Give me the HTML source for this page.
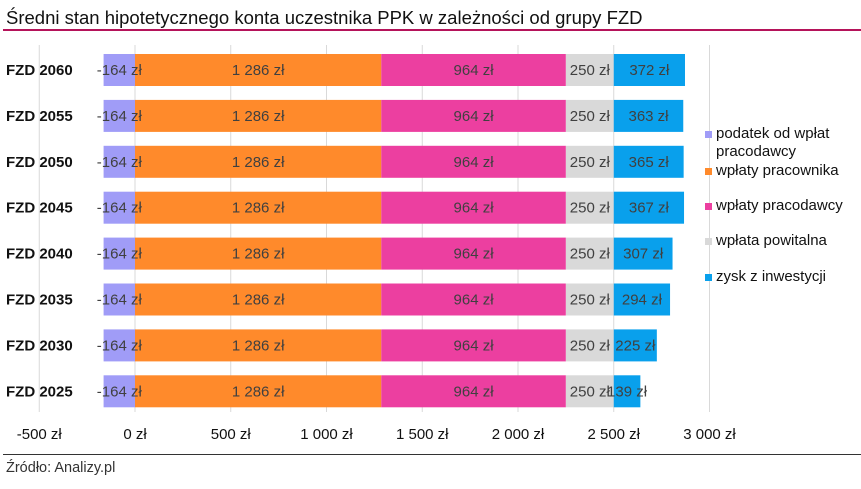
<!DOCTYPE html>
<html><head><meta charset="utf-8"><style>
body{margin:0;background:#fff;font-family:"Liberation Sans",sans-serif}
svg text{font-family:"Liberation Sans",sans-serif}
</style></head><body>
<svg width="861" height="484" xmlns="http://www.w3.org/2000/svg">
<text x="6" y="24" font-size="18.5" fill="#111">Średni stan hipotetycznego konta uczestnika PPK w zależności od grupy FZD</text>
<rect x="3" y="29" width="858" height="2" fill="#b5135a"/>
<g id="grid"></g><g id="bars"></g><g id="labels"></g><g id="xaxis"></g><g id="legend"></g>
<rect x="3" y="454" width="858" height="1" fill="#333"/>
<text x="6" y="472" font-size="14.5" fill="#333">Źródło: Analizy.pl</text>
</svg>
<script>
const categories=["FZD 2060","FZD 2055","FZD 2050","FZD 2045","FZD 2040","FZD 2035","FZD 2030","FZD 2025"];
const seriesNames=["podatek od wpłat pracodawcy","wpłaty pracownika","wpłaty pracodawcy","wpłata powitalna","zysk z inwestycji"];
const tax=[-164,-164,-164,-164,-164,-164,-164,-164];
const employee=[1286,1286,1286,1286,1286,1286,1286,1286];
const employer=[964,964,964,964,964,964,964,964];
const welcome=[250,250,250,250,250,250,250,250];
const profit=[372,363,365,367,307,294,225,139];
const ticks=[-500,0,500,1000,1500,2000,2500,3000];
const tickLabels=["-500 zł","0 zł","500 zł","1 000 zł","1 500 zł","2 000 zł","2 500 zł","3 000 zł"];
const colors=["#a09cf7","#ff8a2b","#ec3fa0","#d9d9d9","#09a0ec"];
const NS="http://www.w3.org/2000/svg";
const x=v=>135+v*0.1915;
const y=i=>70+i*45.9;
const bh=32;
const FS=15;
function mk(t,a,p){const e=document.createElementNS(NS,t);for(const k in a)e.setAttribute(k,a[k]);p.appendChild(e);return e;}
const fmt=v=>{const s=Math.abs(v).toString().replace(/\B(?=(\d{3})+(?!\d))/g," ");return (v<0?"-":"")+s+" zł";};
const G=document.getElementById("grid"),B=document.getElementById("bars"),LB=document.getElementById("labels"),X=document.getElementById("xaxis"),L=document.getElementById("legend");
ticks.forEach((t,i)=>{
 const l=mk("line",{x1:x(t),x2:x(t),y1:45,y2:412,stroke:"#d9d9d9","stroke-width":1},G);
 
 
 const tx=mk("text",{x:x(t),y:439,"font-size":FS,"text-anchor":"middle",fill:"#111"},X);
 tx.textContent=tickLabels[i];
 
 
});
const series=[employee,employer,welcome,profit];
categories.forEach((c,i)=>{
 const cy=y(i);
 const lab=mk("text",{x:6,y:cy+5,"font-size":FS,"font-weight":"bold",fill:"#111"},LB);
 lab.textContent=c;
 
 
 const r0=mk("rect",{x:x(tax[i]),y:cy-bh/2,width:x(0)-x(tax[i]),height:bh,fill:colors[0]},B);
 
 
 const t0=mk("text",{x:(x(tax[i])+x(0))/2,y:cy+5,"font-size":FS,"text-anchor":"middle",fill:"#404040"},LB);
 t0.textContent=fmt(tax[i]);
 
 
 let acc=0;
 series.forEach((s,k)=>{
  const r=mk("rect",{x:x(acc),y:cy-bh/2,width:x(acc+s[i])-x(acc),height:bh,fill:colors[k+1]},B);
  
  
  const t=mk("text",{x:(x(acc)+x(acc+s[i]))/2,y:cy+5,"font-size":FS,"text-anchor":"middle",fill:"#404040"},LB);
  t.textContent=fmt(s[i]);
  
  
  acc+=s[i];
 });
});
const ly=[137,174,209,244,280];
seriesNames.forEach((n,k)=>{
 const r=mk("rect",{x:705,y:ly[k]-6,width:7,height:7,fill:colors[k]},L);
 
 
 const t=mk("text",{x:716,y:ly[k]+1,"font-size":FS,fill:"#111"},L);
 
 
 if(k===0){t.textContent="podatek od wpłat";const t2=mk("text",{x:716,y:ly[k]+19,"font-size":FS,fill:"#111"},L);t2.textContent="pracodawcy";
  
  }
 else t.textContent=n;
});
</script>
</body></html>
